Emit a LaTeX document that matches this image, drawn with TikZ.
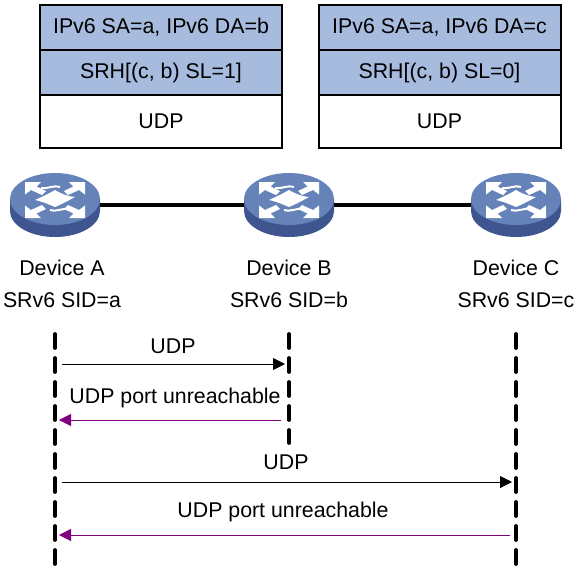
\documentclass[tikz,border=0pt]{standalone}
\usepackage{fontspec}
\setmainfont{Liberation Sans}
\usepackage{xcolor}
\usetikzlibrary{shapes.geometric, arrows.meta, positioning, backgrounds}
\definecolor{hdrblue}{HTML}{A6BBDE}
\definecolor{routertop}{HTML}{6583B9}
\definecolor{routerside}{HTML}{3F5590}
\definecolor{replypurple}{HTML}{800080}
\tikzstyle{hdr}    = [rectangle, draw=black, line width=1.5pt, fill=hdrblue,
                      minimum width=181.5pt, minimum height=33.75pt,
                      inner sep=0pt, font=\fontsize{16}{18}\selectfont]
\tikzstyle{payload}= [hdr, fill=white, minimum height=39.5pt]
\tikzstyle{router} = [rectangle, minimum width=67.5pt, minimum height=48pt, inner sep=0pt]
\tikzstyle{device} = [align=center, font=\fontsize{16}{24}\selectfont]
\tikzstyle{msg}    = [inner sep=0pt, font=\fontsize{16}{18}\selectfont]
\tikzstyle{life}   = [line width=2.8pt, dash pattern=on 10.5pt off 7.5pt, line cap=round]
\tikzstyle{arrow}  = [line width=0.75pt, -{Triangle[length=9pt, width=9pt]}]
\tikzstyle{reply}  = [arrow, color=replypurple]

% router body with the white switching arrows on its top
\newcommand{\routericon}[1]{
    \begin{scope}[shift={(#1,199)}]
        \fill[routerside] (-45,0) -- (-45,12) arc[start angle=180, end angle=0,
            x radius=45, y radius=26] -- (45,0) -- cycle;
        \fill[routertop] (0,0) ellipse[x radius=45, y radius=26];
        \foreach \sx/\sy in {1/1, -1/1, 1/-1, -1/-1} {
            \begin{scope}[yshift=-0.75pt, xscale=\sx, yscale=\sy]
                \fill[white] (30,-18) -- (14,-18) -- (18.5,-13.5) -- (9,-9) -- (13,-5)
                      -- (24,-10) -- (30,-5.5) -- cycle;
            \end{scope}
        }
        \fill[white] (0,-9) .. controls (5,-6) and (11,-3) .. (20,-2)
              .. controls (11,3) and (5,6) .. (0,8)
              .. controls (-5,6) and (-11,3) .. (-20,1)
              .. controls (-11,-3) and (-5,-6) .. (0,-9) -- cycle;
        \draw[white, line width=1.5pt] (-14,-11) .. controls (-6,-10) and (-3,-14) .. (5,-12);
        \draw[white, line width=1.5pt] (14,10) .. controls (6,9) and (3,13) .. (-5,11);
    \end{scope}
}

\begin{document}
\begin{tikzpicture}[x=0.75pt, y=-0.75pt]

    \useasboundingbox (0,0) rectangle (578,578);

    % Packet headers
    \node (sa1)  [hdr]     at (161,27.5)  {IPv6 SA=a, IPv6 DA=b};
    \node (srh1) [hdr]     at (161,72.5)  {SRH[(c, b) SL=1]};
    \node (udp1) [payload] at (161,121.5) {UDP};
    \node (sa2)  [hdr]     at (439.5,27.5)  {IPv6 SA=a, IPv6 DA=c};
    \node (srh2) [hdr]     at (439.5,72.5)  {SRH[(c, b) SL=0]};
    \node (udp2) [payload] at (439.5,121.5) {UDP};

    % Routers
    \routericon{55}
    \routericon{289}
    \routericon{516}
    \node (devA) [router] at (55,205)  {};
    \node (devB) [router] at (289,205) {};
    \node (devC) [router] at (516,205) {};
    \begin{scope}[on background layer]
        \draw [line width=3pt] (devA) -- (devB);
        \draw [line width=3pt] (devB) -- (devC);
    \end{scope}

    % Device labels
    \node (lblA) [device] at (62,284)  {Device A\\SRv6 SID=a};
    \node (lblB) [device] at (289,284) {Device B\\SRv6 SID=b};
    \node (lblC) [device] at (516,284) {Device C\\SRv6 SID=c};

    % Lifelines
    \coordinate (topA) at (55,334);
    \coordinate (endA) at (55,565);
    \coordinate (topB) at (289,334);
    \coordinate (endB) at (289,443);
    \coordinate (topC) at (516,334);
    \coordinate (endC) at (516,565);
    \draw [life] (topA) -- (endA);
    \draw [life] (topB) -- (endB);
    \draw [life] (topC) -- (endC);

    % Messages
    \coordinate (a1) at (62,364);
    \coordinate (b1) at (285,364);
    \coordinate (b2) at (281,420);
    \coordinate (a2) at (59,420);
    \coordinate (a3) at (62,482);
    \coordinate (c3) at (512,482);
    \coordinate (c4) at (510,535);
    \coordinate (a4) at (59,535);
    \draw [arrow] (a1) -- (b1);
    \draw [reply] (b2) -- (a2);
    \draw [arrow] (a3) -- (c3);
    \draw [reply] (c4) -- (a4);

    \node (udpA)   [msg] at (173,346) {UDP};
    \node (portA)  [msg] at (175,398) {UDP port unreachable};
    \node (udpB)   [msg] at (286,462) {UDP};
    \node (portB)  [msg] at (283,512) {UDP port unreachable};

\end{tikzpicture}
\end{document}
